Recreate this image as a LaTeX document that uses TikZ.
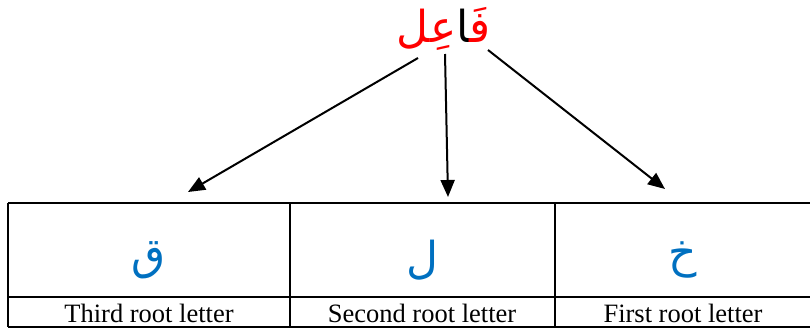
\documentclass[tikz,border=0pt]{standalone}
\usepackage{fontspec}
\setmainfont{Liberation Serif}
\newfontfamily\arabicfont[Script=Arabic]{DejaVu Sans}
\usetikzlibrary{arrows.meta}
\definecolor{wordred}{RGB}{255,0,0}
\definecolor{letterblue}{RGB}{0,112,192}
\begin{document}
\begin{tikzpicture}[x=1pt,y=-1pt,
  arr/.style={-{Triangle[length=17pt,width=14pt]}, line width=2pt},
  gridline/.style={line width=2.2pt},
  rootletter/.style={font=\arabicfont\fontsize{44}{50}\selectfont, text=letterblue, inner sep=0pt},
  rootlabel/.style={font=\fontsize{26.5}{30}\selectfont, anchor=base, inner sep=0pt}]
\useasboundingbox (0,0) rectangle (810,329);
% word (segments set left to right: l-ain | alif | fa)
\node[font=\arabicfont\fontsize{44}{50}\selectfont, inner sep=0pt] (word) at (444,29)
  {{\color{wordred}عِل}\char"200D ا{\color{wordred}فَ\char"200D}};
% table
\draw[gridline] (8,203) -- (812,203);
\draw[gridline] (8,297) -- (812,297);
\draw[gridline] (8,327) -- (812,327);
\draw[gridline] (8,203) -- (8,327);
\draw[gridline] (290,203) -- (290,327);
\draw[gridline] (555,203) -- (555,327);
% letters
\node[rootletter] (l3) at (149,260) {ق};
\node[rootletter] (l2) at (422,260) {ل};
\node[rootletter] (l1) at (683,260) {خ};
% labels
\node[rootlabel] (t3) at (149,322) {Third root letter};
\node[rootlabel] (t2) at (422,322) {Second root letter};
\node[rootlabel] (t1) at (683,322) {First root letter};
% arrows
\coordinate (s3) at (418,58);
\coordinate (s2) at (445,54);
\coordinate (s1) at (488,50);
\coordinate (e3) at (188,192);
\coordinate (e2) at (448,197);
\coordinate (e1) at (665,189);
\draw[arr] (s3) -- (e3);
\draw[arr] (s2) -- (e2);
\draw[arr] (s1) -- (e1);
\end{tikzpicture}
\end{document}
